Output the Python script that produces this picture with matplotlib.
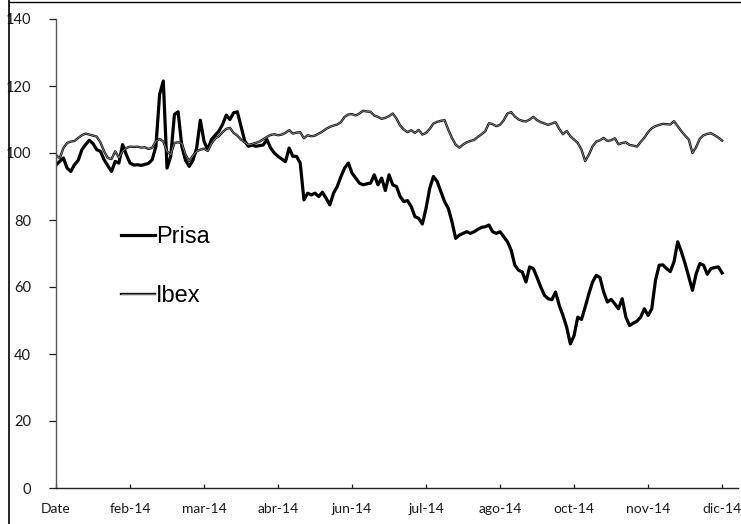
import matplotlib
matplotlib.use("Agg")
import matplotlib.pyplot as plt
import matplotlib.patheffects as pe
from matplotlib.lines import Line2D

prisa = [96.4, 97.5, 98.5, 95.5, 94.5, 96.5, 97.8, 101.0, 102.5, 103.8,
         102.8, 101.0, 100.5, 98.0, 96.2, 94.5, 97.5, 97.0, 102.5, 99.5,
         97.0, 96.4, 96.5, 96.3, 96.6, 96.9, 98.0, 102.0, 117.5, 121.5,
         95.5, 99.0, 111.5, 112.3, 102.0, 97.8, 96.0, 97.8, 101.4, 109.8,
         103.5, 101.0, 104.0, 105.3, 106.5, 108.5, 111.3, 110.0, 112.0, 112.3,
         108.0, 103.6, 102.0, 102.4, 102.0, 102.2, 102.4, 104.0, 101.5, 100.0,
         99.0, 98.2, 97.4, 101.5, 99.0, 99.0, 97.0, 86.0, 88.0, 87.5,
         88.0, 87.0, 88.3, 86.5, 84.5, 88.0, 90.0, 93.0, 95.5, 97.0,
         94.0, 92.5, 91.0, 90.5, 90.8, 91.0, 93.5, 90.5, 92.5, 88.8,
         93.5, 90.5, 90.0, 87.0, 85.5, 85.8, 84.0, 81.0, 80.5, 78.8,
         83.5, 89.5, 93.0, 91.5, 88.5, 85.5, 83.5, 79.5, 74.5, 75.5,
         76.0, 76.5, 76.0, 76.5, 77.2, 77.8, 78.0, 78.5, 76.5, 76.0,
         76.5, 75.0, 73.5, 71.0, 66.5, 65.0, 64.5, 61.5, 66.0, 65.5,
         62.8, 60.0, 57.5, 56.5, 56.2, 58.5, 54.5, 51.5, 48.0, 43.0,
         45.5, 51.0, 50.3, 54.0, 58.0, 61.5, 63.5, 62.8, 58.5, 55.5,
         56.3, 55.0, 53.5, 56.5, 51.0, 48.5, 49.2, 49.8, 51.0, 53.5,
         51.5, 53.5, 62.0, 66.5, 66.6, 65.5, 64.6, 67.5, 73.5, 70.5,
         67.0, 63.0, 59.0, 64.0, 67.0, 66.5, 63.8, 65.5, 65.8, 66.0,
         64.2]

ibex = [99.4, 98.4, 101.5, 103.0, 103.4, 103.6, 104.5, 105.3, 105.8, 105.5,
        105.2, 104.9, 103.2, 100.5, 98.5, 98.2, 100.5, 98.6, 100.5, 101.5,
        101.9, 101.8, 101.9, 101.6, 101.7, 101.2, 101.6, 103.5, 104.2, 103.4,
        100.5, 99.5, 103.0, 103.2, 102.9, 99.5, 97.6, 99.2, 100.5, 101.0,
        101.3, 100.6, 102.8, 104.3, 105.0, 106.2, 107.2, 107.5, 106.0, 105.2,
        104.0, 103.2, 102.4, 102.7, 103.0, 103.4, 104.1, 104.8, 105.4, 105.6,
        105.3, 105.5, 106.0, 106.8, 105.8, 106.1, 106.2, 104.4, 105.3, 105.0,
        105.2, 105.8, 106.4, 107.2, 107.8, 108.2, 108.5, 109.2, 110.8, 111.5,
        111.6, 111.2, 111.8, 112.6, 112.4, 112.3, 111.2, 110.8, 110.2, 110.5,
        111.0, 111.8, 110.3, 108.2, 107.0, 106.2, 106.8, 106.0, 106.9, 105.5,
        106.0, 107.2, 108.8, 109.3, 109.6, 109.8, 107.0, 104.5, 102.5, 101.6,
        102.5, 103.2, 103.6, 103.9, 104.8, 105.6, 106.5, 108.9, 108.6, 108.0,
        108.4, 109.8, 111.8, 112.2, 110.9, 110.0, 109.6, 109.4, 110.0, 110.8,
        109.8, 109.2, 108.8, 108.4, 108.8, 109.2, 107.2, 105.6, 106.6, 105.0,
        104.0, 103.0, 101.0, 97.6, 99.5, 102.0, 103.4, 103.8, 104.5, 103.6,
        103.8, 104.4, 102.6, 103.0, 103.2, 102.4, 102.2, 101.9, 103.3, 104.6,
        106.2, 107.4, 108.0, 108.4, 108.7, 108.6, 108.5, 109.5, 108.0, 106.5,
        105.2, 104.0, 100.0, 101.8, 104.3, 105.3, 105.7, 105.9, 105.3, 104.6,
        103.7]

tick_labels = ["Date", "feb-14", "mar-14", "abr-14", "jun-14", "jul-14",
               "ago-14", "oct-14", "nov-14", "dic-14"]
tick_step = 20
y_ticks = [0, 20, 40, 60, 80, 100, 120, 140]

fig = plt.figure(figsize=(7.41, 5.24), dpi=100)
ax = fig.add_axes([56 / 741, 36 / 524, 682 / 741, 469 / 524])

x = list(range(len(prisa)))
ax.plot(x, prisa, color="black", lw=2.3, solid_joinstyle="round", label="Prisa")
ax.plot(x, ibex, color="#a8a8a8", lw=0.45, label="Ibex",
        path_effects=[pe.Stroke(linewidth=1.7, foreground="#111111"), pe.Normal()])

ax.set_xlim(0, 184.3)
ax.set_ylim(0, 140)
ax.set_yticks(y_ticks)
ax.set_xticks([i * tick_step for i in range(len(tick_labels))])
ax.set_xticklabels(tick_labels)

for s in ["top", "right"]:
    ax.spines[s].set_visible(False)
ax.spines["left"].set_color("#555555")
ax.spines["left"].set_linewidth(1.0)
ax.spines["bottom"].set_color("#222222")
ax.spines["bottom"].set_linewidth(1.0)

ax.tick_params(axis="y", direction="out", length=5, width=0.9, pad=13,
               labelsize=10.5, colors="#1a1a1a")
ax.tick_params(axis="x", direction="in", length=3, width=0.9, pad=11,
               labelsize=10, colors="#1a1a1a")
for lab in ax.get_xticklabels() + ax.get_yticklabels():
    lab.set_fontfamily("Lato")

leg = ax.legend(loc="upper left", bbox_to_anchor=(0.095, 0.558), frameon=False,
                prop={"family": "Liberation Sans", "size": 17},
                handlelength=1.45, handletextpad=0.05, labelspacing=1.55,
                borderpad=0, borderaxespad=0)

fig.add_artist(Line2D([9 / 741, 9 / 741], [0, 1], color="black", lw=1.2))
fig.add_artist(Line2D([9 / 741, 1], [1 - 2 / 524, 1 - 2 / 524], color="black", lw=1.0))

fig.savefig("out.png", dpi=100)
